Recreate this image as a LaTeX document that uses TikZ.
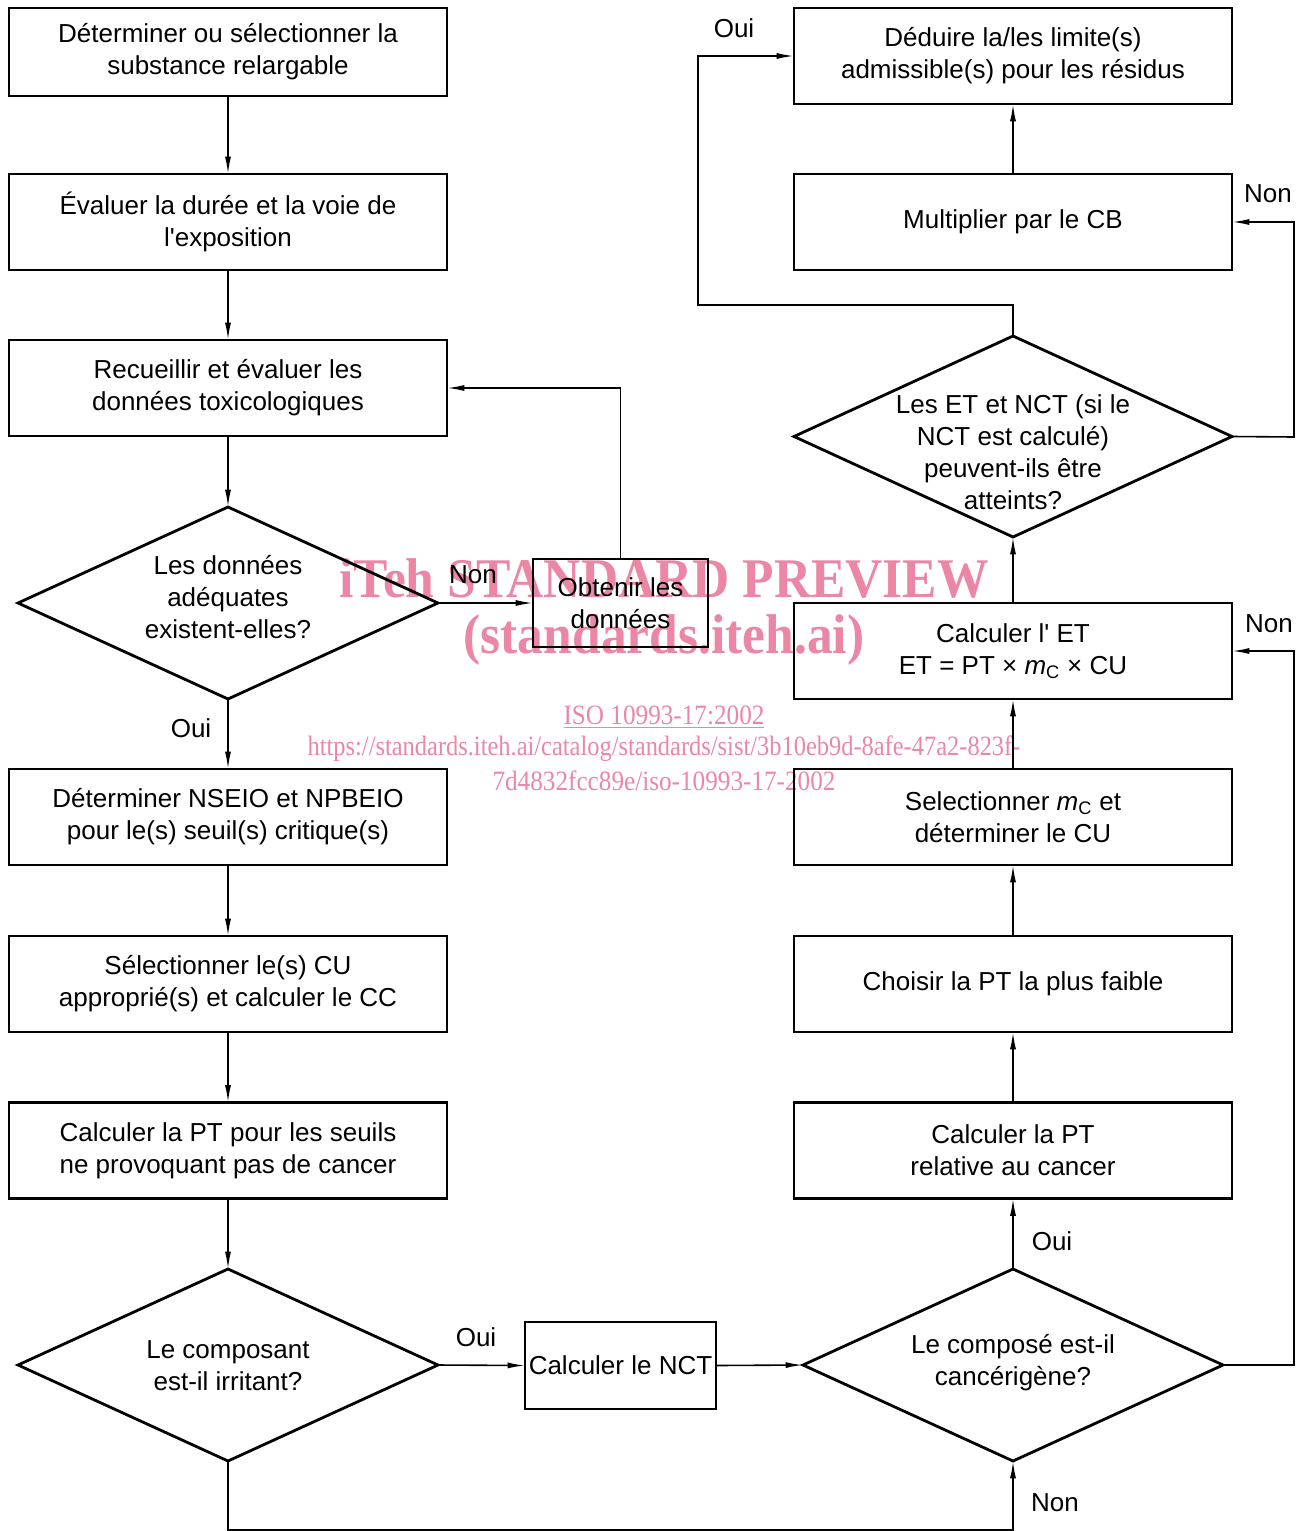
\documentclass[tikz,border=0pt]{standalone}
\usepackage{fontspec}
\setmainfont{Liberation Sans}
\newfontfamily\wmfont{Liberation Serif}
\usetikzlibrary{shapes.geometric,arrows.meta}
\definecolor{wmpink}{RGB}{235,135,165}
\begin{document}
\begin{tikzpicture}[x=0.75pt,y=-0.75pt,
 every node/.style={font=\fontsize{19.5}{24}\selectfont, align=center},
 box/.style={draw, line width=2.1pt, minimum width=328.5pt, minimum height=72pt, inner sep=0pt, outer sep=0pt},
 dia/.style={draw, diamond, line width=2.1pt, minimum width=315pt, minimum height=144pt, inner sep=0pt, outer sep=0pt},
 conn/.style={line width=1.2pt, -{Latex[length=13pt,width=4.5pt]}},
 wm/.style={text=wmpink, inner sep=0pt}]
\useasboundingbox (0,0) rectangle (1300,1531);
% watermark
\node[wm, font=\wmfont\bfseries\fontsize{42}{46}\selectfont] (wm1) at (664,578) {\scalebox{0.92}[1]{iTeh STANDARD PREVIEW}};
\node[wm, font=\wmfont\bfseries\fontsize{42}{46}\selectfont] (wm2) at (664,640) {\scalebox{0.92}[1]{(standards.iteh.ai)}};
\node[wm, font=\wmfont\fontsize{21}{24}\selectfont] (wm3) at (664,717) {\scalebox{0.9}[1]{\underline{ISO 10993-17:2002}}};
\node[wm, font=\wmfont\fontsize{21}{24}\selectfont] (wm4) at (664,749) {\scalebox{0.873}[1]{https://standards.iteh.ai/catalog/standards/sist/3b10eb9d-8afe-47a2-823f-}};
\node[wm, font=\wmfont\fontsize{21}{24}\selectfont] (wm5) at (664,781) {\scalebox{0.9}[1]{7d4832fcc89e/iso-10993-17-2002}};
% left column
\node[box, minimum height=66pt] (b1) at (228,52) {Déterminer ou sélectionner la\\substance relargable};
\node[box] (b2) at (228,222) {Évaluer la durée et la voie de\\l\textquotesingle exposition};
\node[box] (b3) at (228,388) {Recueillir et évaluer les\\données toxicologiques};
\node[dia] (d1) at (228,603) {};
\node (d1t) at (228,597) {Les données\\adéquates\\existent-elles?};
\node[box] (b4) at (228,817) {Déterminer NSEIO et NPBEIO\\pour le(s) seuil(s) critique(s)};
\node[box] (b5) at (228,984) {Sélectionner le(s) CU\\approprié(s) et calculer le CC};
\node[box] (b6) at (228,1150.5) {Calculer la PT pour les seuils\\ne provoquant pas de cancer};
\node[dia] (d2) at (228,1365) {};
\node (d2t) at (228,1366) {Le composant\\est-il irritant?};
% middle
\node[box, minimum width=131.25pt, minimum height=66pt] (obt) at (620.5,603) {Obtenir les\\données};
\node[box, minimum width=143.25pt, minimum height=65.25pt] (nct) at (620.5,1365.5) {Calculer le NCT};
% right column
\node[box] (r1) at (1013,56) {Déduire la/les limite(s)\\admissible(s) pour les résidus};
\node[box] (r2) at (1013,222) {Multiplier par le CB};
\node[dia, minimum width=328.5pt, minimum height=150.75pt] (d4) at (1013,436.5) {};
\node (d4t) at (1013,452) {Les ET et NCT (si le\\NCT est calculé)\\peuvent-ils être\\atteints?};
\node[box] (r3) at (1013,651) {Calculer l\textquotesingle\ ET\\ET = PT × \textit{m}\textsubscript{C} × CU};
\node[box] (r4) at (1013,817) {Selectionner \textit{m}\textsubscript{C} et\\déterminer le CU};
\node[box] (r5) at (1013,984) {Choisir la PT la plus faible};
\node[box] (r6) at (1013,1150.5) {Calculer la PT\\relative au cancer};
\node[dia] (d3) at (1013,1365) {};
\node (d3t) at (1013,1363) {Le composé est-il\\cancérigène?};
% coordinates
\coordinate (c1) at (698,305);
\coordinate (c2) at (1294,437);
\coordinate (c3) at (1294,1365);
\coordinate (c4) at (228,1530);
% connectors
\draw[conn] (b1) -- (b2);
\draw[conn] (b2) -- (b3);
\draw[conn] (b3) -- (d1);
\draw[conn] (d1) -- (b4);
\draw[conn] (b4) -- (b5);
\draw[conn] (b5) -- (b6);
\draw[conn] (b6) -- (d2);
\draw[conn] (d1.east) -- (obt.west);
\draw[conn] (obt.north) |- (b3.east);
\draw[conn] (d2.east) -- (nct.west);
\draw[conn] (nct.east) -- (d3.west);
\draw[conn] (d2.south) -- (c4) -| (d3.south);
\draw[conn] (d3.north) -- (r6.south);
\draw[conn] (r6) -- (r5);
\draw[conn] (r5) -- (r4);
\draw[conn] (r4) -- (r3);
\draw[conn] (r3) -- (d4.south);
\draw[conn] (d4.north) |- (c1) |- (r1.west);
\draw[conn] (d4.east) -- (c2) |- (r2.east);
\draw[conn] (d3.east) -- (c3) |- (r3.east);
\draw[conn] (r2) -- (r1);
% labels
\node (l1) at (191,728) {Oui};
\node (l2) at (473,575) {Non};
\node (l3) at (476,1337) {Oui};
\node (l4) at (1055,1503) {Non};
\node (l5) at (1052,1241) {Oui};
\node (l6) at (1269,624) {Non};
\node (l7) at (1268,194) {Non};
\node (l8) at (734,28) {Oui};
\end{tikzpicture}
\end{document}
